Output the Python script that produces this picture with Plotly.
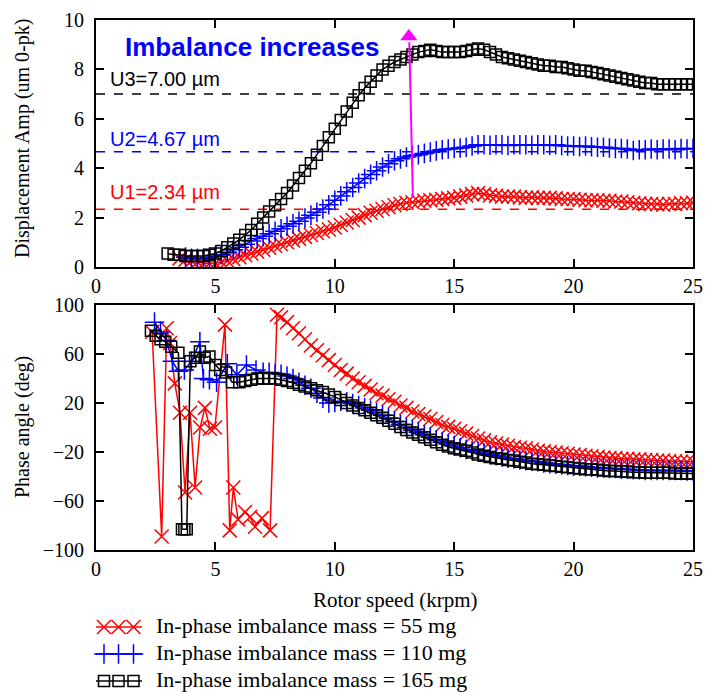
import plotly.graph_objects as go

# ---------------- data ----------------
SPEED = [3.0, 3.25, 3.5, 3.75, 4.0, 4.25, 4.5, 4.75, 5.0, 5.25, 5.5, 5.75,
         6.0, 6.25, 6.5, 6.75, 7.0, 7.25, 7.5, 7.75, 8.0, 8.25, 8.5, 8.75,
         9.0, 9.25, 9.5, 9.75, 10.0, 10.25, 10.5, 10.75, 11.0, 11.25, 11.5, 11.75,
         12.0, 12.25, 12.5, 12.75, 13.0, 13.25, 13.5, 13.75, 14.0, 14.25, 14.5, 14.75,
         15.0, 15.25, 15.5, 15.75, 16.0, 16.25, 16.5, 16.75, 17.0, 17.25, 17.5, 17.75,
         18.0, 18.25, 18.5, 18.75, 19.0, 19.25, 19.5, 19.75, 20.0, 20.25, 20.5, 20.75,
         21.0, 21.25, 21.5, 21.75, 22.0, 22.25, 22.5, 22.75, 23.0, 23.25, 23.5, 23.75,
         24.0, 24.25, 24.5, 24.75, 25.0]

AMP_55 = [None, None, 0.35, 0.30, 0.25, 0.20, 0.15, 0.15, 0.15, 0.20, 0.25, 0.32,
          0.40, 0.48, 0.55, 0.62, 0.70, 0.78, 0.85, 0.92, 1.00, 1.08, 1.15, 1.22,
          1.30, 1.38, 1.45, 1.52, 1.60, 1.70, 1.80, 1.90, 2.00, 2.10, 2.20, 2.28,
          2.35, 2.42, 2.50, 2.55, 2.60, 2.62, 2.65, 2.68, 2.70, 2.72, 2.75, 2.78,
          2.80, 2.85, 2.90, 2.95, 3.00, 2.95, 2.90, 2.88, 2.85, 2.85, 2.85, 2.82,
          2.80, 2.82, 2.80, 2.80, 2.80, 2.78, 2.75, 2.75, 2.75, 2.72, 2.70, 2.70,
          2.70, 2.68, 2.68, 2.65, 2.65, 2.62, 2.60, 2.58, 2.55, 2.55, 2.55, 2.52,
          2.55, 2.55, 2.58, 2.58, 2.60]

AMP_110 = [None, None, None, 0.40, 0.35, 0.35, 0.35, 0.40, 0.45, 0.50, 0.60, 0.70,
           0.80, 0.92, 1.05, 1.15, 1.25, 1.35, 1.45, 1.55, 1.65, 1.75, 1.85, 1.98,
           2.10, 2.22, 2.35, 2.52, 2.70, 2.88, 3.05, 3.22, 3.40, 3.58, 3.75, 3.90,
           4.05, 4.18, 4.30, 4.38, 4.45, 4.50, 4.55, 4.60, 4.65, 4.70, 4.75, 4.78,
           4.80, 4.82, 4.85, 4.90, 4.95, 4.95, 4.93, 4.95, 4.95, 4.92, 4.95, 4.95,
           4.95, 4.93, 4.95, 4.95, 4.93, 4.95, 4.92, 4.90, 4.90, 4.88, 4.90, 4.87,
           4.85, 4.85, 4.82, 4.80, 4.80, 4.78, 4.72, 4.75, 4.75, 4.78, 4.75, 4.78,
           4.78, 4.75, 4.80, 4.78, 4.80]

AMP_165 = [0.55, 0.50, 0.50, 0.45, 0.45, 0.45, 0.45, 0.50, 0.55, 0.65, 0.80, 0.95,
           1.10, 1.30, 1.50, 1.75, 2.00, 2.25, 2.50, 2.75, 3.00, 3.30, 3.60, 3.90,
           4.20, 4.55, 4.90, 5.25, 5.60, 5.95, 6.30, 6.65, 6.95, 7.25, 7.50, 7.75,
           8.00, 8.15, 8.30, 8.40, 8.50, 8.60, 8.70, 8.75, 8.80, 8.75, 8.70, 8.70,
           8.70, 8.70, 8.75, 8.80, 8.85, 8.80, 8.70, 8.60, 8.50, 8.45, 8.40, 8.35,
           8.30, 8.25, 8.20, 8.15, 8.15, 8.10, 8.10, 8.05, 8.00, 7.95, 7.95, 7.90,
           7.85, 7.80, 7.75, 7.70, 7.65, 7.60, 7.55, 7.50, 7.45, 7.45, 7.40, 7.40,
           7.40, 7.40, 7.40, 7.40, 7.40]

PHASE_55_SPEED = [2.35, 2.75, 2.96, 3.1, 3.3, 3.52, 3.73, 3.94, 4.15, 4.36, 4.56, 4.77,
                  4.98, 5.4, 5.6, 5.75, 5.95, 6.24, 6.45, 6.66, 6.95, 7.29, 7.58] + SPEED[19:]
PHASE_55 = [78, -89, 81, 69, 36, 12, -53, 12, -49, 0, 16, -1,
            0, 84, -84, -49, -75, -69, -73, -81, -74, -84, 92,
            90,
            86, 81, 77, 72, 67, 63, 59, 55, 51, 47, 44, 40, 37, 34, 31, 28,
            26, 23, 21, 18, 16, 13, 11, 9, 7, 4.5, 2, 0.5, -1, -3, -5, -7,
            -9, -10.5, -12, -13, -14, -15, -16, -16.5, -17, -18, -19, -19.5,
            -20, -20.5, -21, -21.5, -22, -22.5, -23, -23.5, -24, -24.5, -25, -25,
            -25.5, -25.5, -26, -26, -26.5, -26.5, -27, -27, -27.5, -27.5, -28, -28,
            -28]

PHASE_110_SPEED = [2.45, 2.7, 2.95, 3.2, 3.45, 3.7, 4.0, 4.35, 4.5, 4.75, 5.05, 5.5,
                   5.9, 6.3, 6.7] + SPEED[16:]
PHASE_110 = [86, 78, 71, 54, 46, 47, 54, 70, 40, 39, 37, 52, 43, 51, 47,
             45, 45, 44, 43.5, 42, 40, 37, 34.5, 32, 28, 24, 20,
             20.5, 21.5, 21, 19.5, 18, 16, 14, 12, 10, 7.5, 5, 2.5,
             0, -2, -4, -6, -8, -10, -12, -13.5, -15, -16.5, -18, -19,
             -20, -21, -22, -23, -24, -25, -25.5, -26.5, -27, -27.5, -28, -29,
             -29.5, -30, -30.5, -31, -31.5, -31.5, -32, -32.5, -33, -33, -33.5, -33.5,
             -34, -34, -34.5, -34.5, -35, -35, -35, -35, -35, -35, -35, -35.5,
             -35.5]

PHASE_165_SPEED = [2.3, 2.5, 2.7, 2.9, 3.15, 3.45, 3.6, 3.7, 3.8, 3.95, 4.15, 4.35,
                   4.55, 4.75, 5.0, 5.2, 5.45, 5.7] + SPEED[12:]
PHASE_165 = [79, 75, 72, 70, 66, 61, -83, -83, -83, 54, 57, 62, 57, 58, 51, 47, 45, 37,
             37, 38, 39, 40, 40, 40, 40, 39, 38, 36.5, 35, 33.5,
             32, 30.5, 29, 27, 25, 22.5, 20, 18, 16, 14, 12, 10,
             8, 5.5, 3, 0.5, -2, -4, -6, -8, -10, -12, -14, -15.5,
             -17, -18, -19, -20.5, -22, -23, -24, -25, -25.5, -26.5, -27, -28,
             -28.5, -29.5, -30, -30.5, -31, -31.5, -32, -32.5, -33, -33.5, -34, -34,
             -34.5, -35, -35.5, -35.5, -36, -36, -36.5, -36.5, -37, -37, -37, -37,
             -37, -37.5, -37.5, -37.5, -37.5]

REF_SPAN = [0, 25]
REF_LEVELS = [7.00, 4.67, 2.34]
REF_LABELS = ["U3=7.00 µm", "U2=4.67 µm", "U1=2.34 µm"]
ARROW_X = [13.27, 13.12]
ARROW_Y = [2.8, 9.1]
ARROW_HEAD = [13.1, 9.33]

SERIES_NAMES = ["In-phase imbalance mass = 55 mg",
                "In-phase imbalance mass = 110 mg",
                "In-phase imbalance mass = 165 mg"]
X_TICKS = [0, 5, 10, 15, 20, 25]
AMP_TICKS = [0, 2, 4, 6, 8, 10]
PHASE_TICKS = [-100, -60, -20, 20, 60, 100]

assert len(AMP_55) == len(SPEED) == len(AMP_110) == len(AMP_165)
assert len(PHASE_55) == len(PHASE_55_SPEED)
assert len(PHASE_110) == len(PHASE_110_SPEED)
assert len(PHASE_165) == len(PHASE_165_SPEED)

# ---------------- styles ----------------
RED, BLUE, BLACK, MAG = "#ff0000", "#0000ff", "#000000", "#ff00ff"
SERIF = "Liberation Serif, Times New Roman, serif"
SANS = "Liberation Sans, Arial, sans-serif"
styles = [
    dict(color=RED, marker=dict(symbol="x-thin", size=14, line=dict(color=RED, width=1.5))),
    dict(color=BLUE, marker=dict(symbol="cross-thin", size=14, line=dict(color=BLUE, width=1.5))),
    dict(color=BLACK, marker=dict(symbol="square-open", size=11, color=BLACK, line=dict(color=BLACK, width=1.5))),
]

fig = go.Figure()

# reference dashed lines
for lvl, st in zip(REF_LEVELS, [BLACK, BLUE, RED]):
    fig.add_trace(go.Scatter(x=REF_SPAN, y=[lvl, lvl], mode="lines",
                             line=dict(color=st, width=1.5, dash="dash"),
                             xaxis="x", yaxis="y", showlegend=False, hoverinfo="skip"))

amps = [AMP_55, AMP_110, AMP_165]
for a, st in zip(amps, styles):
    fig.add_trace(go.Scatter(x=SPEED, y=a, mode="lines+markers",
                             line=dict(color=st["color"], width=1.5),
                             marker=st["marker"], xaxis="x", yaxis="y",
                             showlegend=False, connectgaps=False))

# arrow
fig.add_trace(go.Scatter(x=ARROW_X, y=ARROW_Y, mode="lines",
                         line=dict(color=MAG, width=2), xaxis="x", yaxis="y",
                         showlegend=False))
fig.add_trace(go.Scatter(x=[ARROW_HEAD[0]], y=[ARROW_HEAD[1]], mode="markers",
                         marker=dict(symbol="triangle-up", size=15, color=MAG),
                         xaxis="x", yaxis="y", showlegend=False, cliponaxis=False))

phases = [(PHASE_55_SPEED, PHASE_55), (PHASE_110_SPEED, PHASE_110), (PHASE_165_SPEED, PHASE_165)]
for (px, py), st in zip(phases, styles):
    fig.add_trace(go.Scatter(x=px, y=py, mode="lines+markers",
                             line=dict(color=st["color"], width=1.5),
                             marker=st["marker"], xaxis="x2", yaxis="y2",
                             showlegend=False))

# custom legend (pixel-like axis)
leg_rows = [627, 654, 681]
for row, st, name in zip(leg_rows, styles, SERIES_NAMES):
    fig.add_trace(go.Scatter(x=[95, 142], y=[row, row], mode="lines",
                             line=dict(color=st["color"], width=1.5),
                             xaxis="x3", yaxis="y3", showlegend=False, cliponaxis=False))
    fig.add_trace(go.Scatter(x=[104, 118.5, 133.5], y=[row, row, row], mode="markers",
                             marker=st["marker"], xaxis="x3", yaxis="y3", showlegend=False,
                             cliponaxis=False))
    fig.add_trace(go.Scatter(x=[156], y=[row], mode="text", text=[name],
                             textposition="middle right",
                             textfont=dict(family=SERIF, size=22, color="black"),
                             xaxis="x3", yaxis="y3", showlegend=False, cliponaxis=False))

axis_common = dict(showline=True, linewidth=2, linecolor="black", mirror="ticks",
                   ticks="inside", ticklen=8, tickwidth=1.5, tickcolor="black",
                   showgrid=False, zeroline=False, automargin=False,
                   tickfont=dict(family=SERIF, size=20, color="black"))

annotations = [
    dict(text="Imbalance increases", x=6.53, y=8.9, xref="x", yref="y", showarrow=False,
         xanchor="center", yanchor="middle",
         font=dict(family=SANS, size=26, color=BLUE, weight="bold")),
]
for lab, lvl_y, col in zip(REF_LABELS, [7.62, 5.2, 3.05], [BLACK, BLUE, RED]):
    annotations.append(dict(text=lab, x=0.5, y=lvl_y, xref="x", yref="y", xanchor="left",
                            yanchor="middle", showarrow=False,
                            font=dict(family=SANS, size=20, color=col)))
annotations += [
    dict(text="Rotor speed (krpm)", x=0.5, y=0.1369, xref="paper", yref="paper",
         xanchor="center", yanchor="middle",
         showarrow=False, font=dict(family=SERIF, size=21, color="black")),
    dict(text="Displacement Amp (um 0-pk)", x=-0.124, y=0.8244, xref="paper", yref="paper",
         xanchor="center", yanchor="middle",
         textangle=-90, showarrow=False, font=dict(family=SERIF, size=20, color="black")),
    dict(text="Phase angle (deg)", x=-0.124, y=0.3943, xref="paper", yref="paper",
         xanchor="center", yanchor="middle",
         textangle=-90, showarrow=False, font=dict(family=SERIF, size=20, color="black")),
]

fig.update_layout(
    width=708, height=692,
    margin=dict(l=96, r=15, t=20, b=0, autoexpand=False),
    paper_bgcolor="white", plot_bgcolor="white",
    xaxis=dict(domain=[0, 1], range=[0, 25], tickvals=X_TICKS, anchor="y", **axis_common),
    yaxis=dict(domain=[0.6324, 1.0], range=[0, 10], tickvals=AMP_TICKS, anchor="x",
               ticklabelstandoff=6, **axis_common),
    xaxis2=dict(domain=[0, 1], range=[0, 25], tickvals=X_TICKS, anchor="y2", **axis_common),
    yaxis2=dict(domain=[0.2113, 0.5759], range=[-100, 100], tickvals=PHASE_TICKS, anchor="x2",
                ticklabelstandoff=6, **axis_common),
    xaxis3=dict(domain=[0, 1], range=[96, 693], visible=False, anchor="y3"),
    yaxis3=dict(domain=[0, 0.119], range=[692, 612], visible=False, anchor="x3"),
    annotations=annotations,
    showlegend=False,
)

fig.write_html("out.html")
